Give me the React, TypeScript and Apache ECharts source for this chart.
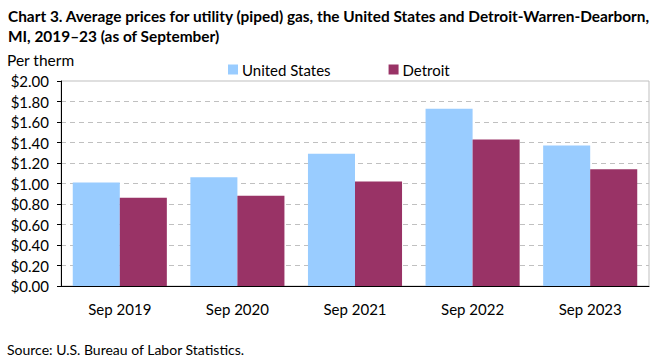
import React, { useEffect, useRef } from "react";
import * as echarts from "echarts";

const categories = ["Sep 2019", "Sep 2020", "Sep 2021", "Sep 2022", "Sep 2023"];
const usValues = [1.01, 1.06, 1.29, 1.73, 1.37];
const detroitValues = [0.86, 0.88, 1.02, 1.43, 1.14];
const seriesNames = ["United States", "Detroit"];
const titleLines = [
  "Chart 3. Average prices for utility (piped) gas, the United States and Detroit-Warren-Dearborn,",
  "MI, 2019\u201323 (as of September)",
];
const yAxisLabel = "Per therm";
const sourceText = "Source: U.S. Bureau of Labor Statistics.";

const FONT = "Lato, 'Open Sans', sans-serif";

export default function App() {
  const ref = useRef<HTMLDivElement>(null);
  useEffect(() => {
    document.body.style.margin = "0";
    if (!ref.current) return;
    const chart = echarts.init(ref.current, undefined, { renderer: "svg" });
    chart.setOption({
      animation: false,
      backgroundColor: "#ffffff",
      textStyle: { fontFamily: FONT },
      title: {
        text: titleLines.join("\n"),
        left: 3,
        top: 1,
        textStyle: {
          fontFamily: FONT,
          fontSize: 15.4,
          fontWeight: "bold",
          color: "#000",
          lineHeight: 20,
        },
      },
      legend: {
        left: 223,
        top: 57,
        icon: "rect",
        itemWidth: 10,
        itemHeight: 10,
        itemGap: 58,
        textStyle: { fontFamily: FONT, fontSize: 15, color: "#000", padding: [0, 0, 0, -1] },
        data: seriesNames,
      },
      grid: {
        left: 61,
        right: 12,
        top: 81,
        bottom: 75,
        show: true,
        borderColor: "#bfbfbf",
        borderWidth: 1,
        containLabel: false,
      },
      xAxis: {
        type: "category",
        data: categories,
        axisTick: { show: false },
        axisLine: { lineStyle: { color: "#000", width: 1 } },
        axisLabel: { fontFamily: FONT, fontSize: 15, color: "#000", margin: 15 },
      },
      yAxis: {
        type: "value",
        min: 0,
        max: 2,
        interval: 0.2,
        axisLine: { show: true, lineStyle: { color: "#000", width: 1 } },
        axisTick: { show: true, length: 4, lineStyle: { color: "#000" } },
        axisLabel: {
          fontFamily: FONT,
          fontSize: 15,
          color: "#000",
          margin: 12,
          formatter: (v: number) => "$" + v.toFixed(2),
        },
        splitLine: {
          show: true,
          showMaxLine: false,
          showMinLine: false,
          lineStyle: { color: "#c0c0c0", type: [5, 4], width: 1 },
        },
      },
      series: [
        {
          name: seriesNames[0],
          type: "bar",
          data: usValues,
          barGap: "0%",
          barCategoryGap: "20%",
          itemStyle: { color: "#99CCFF" },
        },
        {
          name: seriesNames[1],
          type: "bar",
          data: detroitValues,
          itemStyle: { color: "#993366" },
        },
      ],
      graphic: [
        {
          type: "text",
          left: 7,
          top: 52,
          style: { text: yAxisLabel, fontFamily: FONT, fontSize: 15.5, fill: "#000" },
        },
        {
          type: "text",
          left: 7,
          top: 342,
          style: { text: sourceText, fontFamily: FONT, fontSize: 14, fill: "#000" },
        },
      ],
    });
    return () => chart.dispose();
  }, []);
  return <div ref={ref} style={{ width: 661, height: 361 }} />;
}
